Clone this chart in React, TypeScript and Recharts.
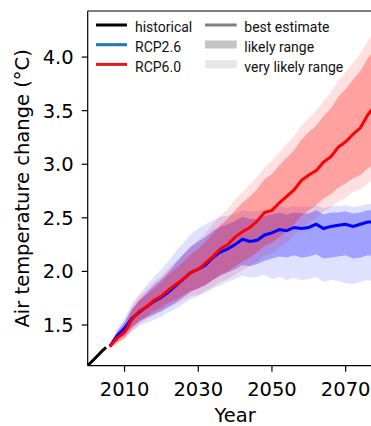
import React from "react";
import { ComposedChart, Line, Area, XAxis, YAxis, ReferenceLine } from "recharts";

const histYears = [2000, 2002, 2004, 2005];
const histValues = [1.12, 1.19, 1.26, 1.29];

const rcpYears = [2006, 2008, 2010, 2012, 2014, 2016, 2018, 2020, 2022, 2024, 2026, 2028, 2030, 2032, 2034, 2036, 2038, 2040, 2042, 2044, 2046, 2048, 2050, 2052, 2054, 2056, 2058, 2060, 2062, 2064, 2066, 2068, 2070, 2072, 2074, 2076, 2078];

const rcp26Best = [1.30, 1.40, 1.47, 1.56, 1.62, 1.67, 1.72, 1.76, 1.81, 1.87, 1.93, 1.99, 2.02, 2.06, 2.13, 2.18, 2.21, 2.25, 2.30, 2.28, 2.29, 2.34, 2.36, 2.39, 2.38, 2.41, 2.40, 2.41, 2.44, 2.40, 2.42, 2.43, 2.44, 2.42, 2.44, 2.46, 2.46];
const rcp26LikelyLow = [1.29, 1.36, 1.41, 1.48, 1.53, 1.57, 1.60, 1.63, 1.67, 1.71, 1.76, 1.81, 1.84, 1.87, 1.92, 1.96, 1.99, 2.02, 2.06, 2.05, 2.07, 2.10, 2.12, 2.14, 2.13, 2.15, 2.13, 2.14, 2.16, 2.12, 2.13, 2.14, 2.15, 2.12, 2.13, 2.15, 2.14];
const rcp26LikelyHigh = [1.31, 1.44, 1.53, 1.65, 1.73, 1.80, 1.87, 1.93, 2.00, 2.08, 2.16, 2.23, 2.28, 2.32, 2.38, 2.42, 2.44, 2.47, 2.51, 2.49, 2.49, 2.52, 2.53, 2.55, 2.53, 2.55, 2.54, 2.54, 2.57, 2.53, 2.55, 2.55, 2.56, 2.54, 2.55, 2.57, 2.57];
const rcp26VeryLow = [1.28, 1.34, 1.38, 1.44, 1.49, 1.52, 1.55, 1.58, 1.62, 1.65, 1.70, 1.74, 1.77, 1.80, 1.84, 1.87, 1.90, 1.93, 1.96, 1.94, 1.95, 1.97, 1.93, 1.95, 1.92, 1.94, 1.92, 1.93, 1.95, 1.90, 1.92, 1.91, 1.89, 1.88, 1.90, 1.92, 1.90];
const rcp26VeryHigh = [1.32, 1.46, 1.56, 1.70, 1.79, 1.87, 1.95, 2.02, 2.10, 2.19, 2.27, 2.35, 2.40, 2.44, 2.48, 2.51, 2.52, 2.54, 2.57, 2.56, 2.56, 2.58, 2.59, 2.61, 2.59, 2.61, 2.60, 2.60, 2.62, 2.59, 2.61, 2.61, 2.62, 2.60, 2.61, 2.63, 2.63];

const rcp60Best = [1.30, 1.38, 1.43, 1.55, 1.63, 1.67, 1.73, 1.77, 1.83, 1.88, 1.93, 1.99, 2.02, 2.08, 2.14, 2.21, 2.25, 2.32, 2.37, 2.41, 2.47, 2.55, 2.57, 2.64, 2.70, 2.76, 2.85, 2.90, 2.94, 3.02, 3.07, 3.16, 3.21, 3.28, 3.34, 3.46, 3.55];
const rcp60LikelyLow = [1.29, 1.34, 1.38, 1.47, 1.54, 1.58, 1.63, 1.66, 1.71, 1.74, 1.78, 1.82, 1.84, 1.88, 1.92, 1.97, 2.00, 2.05, 2.09, 2.13, 2.18, 2.24, 2.27, 2.32, 2.38, 2.44, 2.52, 2.57, 2.62, 2.68, 2.72, 2.78, 2.82, 2.87, 2.90, 2.96, 3.01];
const rcp60LikelyHigh = [1.31, 1.42, 1.49, 1.63, 1.73, 1.78, 1.84, 1.90, 1.97, 2.03, 2.09, 2.16, 2.21, 2.28, 2.35, 2.43, 2.49, 2.57, 2.64, 2.70, 2.77, 2.86, 2.91, 2.99, 3.06, 3.13, 3.23, 3.30, 3.36, 3.45, 3.52, 3.63, 3.70, 3.79, 3.87, 3.99, 4.08];
const rcp60VeryLow = [1.28, 1.32, 1.36, 1.44, 1.51, 1.55, 1.59, 1.62, 1.67, 1.70, 1.73, 1.77, 1.78, 1.82, 1.86, 1.90, 1.93, 1.97, 2.01, 2.05, 2.09, 2.15, 2.17, 2.22, 2.27, 2.33, 2.41, 2.45, 2.50, 2.56, 2.60, 2.65, 2.69, 2.74, 2.77, 2.82, 2.87];
const rcp60VeryHigh = [1.32, 1.44, 1.52, 1.67, 1.77, 1.83, 1.90, 1.96, 2.03, 2.10, 2.16, 2.24, 2.29, 2.36, 2.44, 2.52, 2.58, 2.67, 2.74, 2.81, 2.88, 2.97, 3.03, 3.11, 3.19, 3.26, 3.36, 3.43, 3.50, 3.59, 3.67, 3.78, 3.86, 3.95, 4.03, 4.15, 4.24];

const xTicks = [2010, 2030, 2050, 2070];
const yTicks = [1.5, 2.0, 2.5, 3.0, 3.5, 4.0];
const xDomain = [2000, 2080];
const yDomain = [1.12, 4.43];

const table = [
  ...histYears.map((year, i) => ({ year, hist: histValues[i] })),
  ...rcpYears.map((year, i) => ({
    year,
    r26: rcp26Best[i],
    r26L: [rcp26LikelyLow[i], rcp26LikelyHigh[i]],
    r26VL: [rcp26VeryLow[i], rcp26VeryHigh[i]],
    r60: rcp60Best[i],
    r60L: [rcp60LikelyLow[i], rcp60LikelyHigh[i]],
    r60VL: [rcp60VeryLow[i], rcp60VeryHigh[i]],
  })),
];

const tickFont = { fill: "#000", fontSize: 19.5, fontFamily: "DejaVu Sans" };

const legendLeft = [
  { label: "historical", color: "#000000" },
  { label: "RCP2.6", color: "#1f77b4" },
  { label: "RCP6.0", color: "#e31a1c" },
];
const legendRight = [
  { label: "best estimate", kind: "line", color: "#808080" },
  { label: "likely range", kind: "band", color: "#c4c4c4" },
  { label: "very likely range", kind: "band", color: "#e6e6e6" },
];

function LegendOverlay() {
  const rowBase = [32.3, 52, 71.7];
  return (
    <svg width={371} height={90} style={{ position: "absolute", left: 0, top: 0, pointerEvents: "none" }}>
      {legendLeft.map((d, i) => (
        <g key={d.label}>
          <rect x={96} y={rowBase[i] - 8.8} width={31} height={3} fill={d.color} />
          <text x={135} y={rowBase[i]} fontFamily="Roboto" fontSize={14} fill="#111">{d.label}</text>
        </g>
      ))}
      {legendRight.map((d, i) => (
        <g key={d.label}>
          {d.kind === "line" ? (
            <rect x={205} y={rowBase[i] - 8.8} width={31.7} height={3} fill={d.color} />
          ) : (
            <rect x={205} y={rowBase[i] - 11.5} width={31.7} height={8} fill={d.color} />
          )}
          <text x={244.3} y={rowBase[i]} fontFamily="Roboto" fontSize={14} fill="#111">{d.label}</text>
        </g>
      ))}
    </svg>
  );
}

export default function App() {
  return (
    <div style={{ position: "absolute", left: 0, top: 0, width: 371, height: 426, overflow: "hidden", background: "#fff" }}>
      <ComposedChart width={386} height={426} data={table} margin={{ top: 11, right: 3.5, bottom: 0, left: 0 }}>
        <XAxis
          dataKey="year"
          type="number"
          domain={xDomain}
          ticks={xTicks}
          allowDataOverflow
          height={60.3}
          tickSize={6}
          tickMargin={10}
          tick={tickFont}
          axisLine={{ stroke: "#000", strokeWidth: 1.2 }}
          tickLine={{ stroke: "#000", strokeWidth: 1.2 }}
          label={{ value: "Year", position: "insideBottom", offset: 4.3, fill: "#000", fontSize: 19.5, fontFamily: "DejaVu Sans" }}
        />
        <YAxis
          type="number"
          domain={yDomain}
          ticks={yTicks}
          allowDataOverflow
          width={87.7}
          tickSize={6}
          tickMargin={8}
          tick={tickFont}
          tickFormatter={(v: number) => v.toFixed(1)}
          axisLine={{ stroke: "#000", strokeWidth: 1.2 }}
          tickLine={{ stroke: "#000", strokeWidth: 1.2 }}
          label={{
            value: "Air temperature change (°C)",
            angle: -90,
            position: "insideLeft",
            offset: 22,
            fill: "#000",
            fontSize: 19.5,
            fontFamily: "DejaVu Sans",
            style: { textAnchor: "middle" },
          }}
        />
        <ReferenceLine y={4.43} stroke="#000" strokeWidth={1.2} />
        <Area type="linear" dataKey="r26VL" stroke="none" fill="#0000ff" fillOpacity={0.12} isAnimationActive={false} activeDot={false} dot={false} />
        <Area type="linear" dataKey="r26L" stroke="none" fill="#0000ff" fillOpacity={0.28} isAnimationActive={false} activeDot={false} dot={false} />
        <Area type="linear" dataKey="r60VL" stroke="none" fill="#ff0000" fillOpacity={0.12} isAnimationActive={false} activeDot={false} dot={false} />
        <Area type="linear" dataKey="r60L" stroke="none" fill="#ff0000" fillOpacity={0.28} isAnimationActive={false} activeDot={false} dot={false} />
        <Line type="linear" dataKey="hist" stroke="#000" strokeWidth={3} dot={false} activeDot={false} isAnimationActive={false} />
        <Line type="linear" dataKey="r26" stroke="#0000ff" strokeWidth={3} dot={false} activeDot={false} isAnimationActive={false} />
        <Line type="linear" dataKey="r60" stroke="#ff0000" strokeWidth={3} dot={false} activeDot={false} isAnimationActive={false} />
      </ComposedChart>
      <LegendOverlay />
    </div>
  );
}
